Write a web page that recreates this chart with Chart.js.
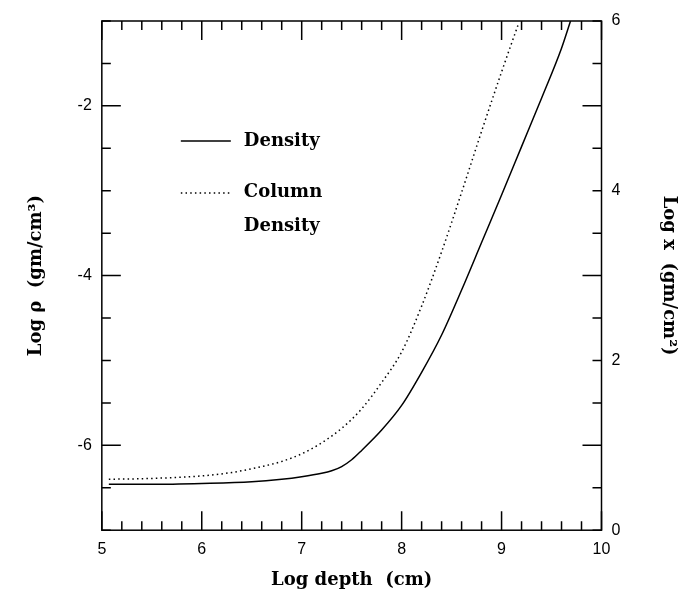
<!DOCTYPE html>
<html>
<head>
<meta charset="utf-8">
<script src="https://cdn.jsdelivr.net/npm/chart.js@4.4.1/dist/chart.umd.min.js"></script>
<style>
  html, body { margin: 0; padding: 0; background: #fff; }
  #wrap { width: 697px; height: 605px; }
</style>
</head>
<body>
<div id="wrap"><canvas id="myChart" width="697" height="605"></canvas></div>
<script>
// density curve: log depth (cm) vs log rho (gm/cm^3), left axis
var depthRho = [5.07, 5.5, 6.0, 6.5, 6.8, 7.0, 7.2, 7.3, 7.4, 7.5, 7.6, 7.8, 8.0, 8.2, 8.4, 8.6, 8.8, 9.0, 9.2, 9.4, 9.6, 9.69];
var logRho = [-6.46, -6.46, -6.45, -6.43, -6.40, -6.37, -6.33, -6.30, -6.25, -6.17, -6.06, -5.82, -5.53, -5.14, -4.70, -4.17, -3.61, -3.05, -2.48, -1.91, -1.32, -1.0];

// column density curve: log depth vs log x (gm/cm^2), right axis
var depthCol = [5.07, 5.5, 6.0, 6.3, 6.6, 6.8, 7.0, 7.2, 7.4, 7.6, 7.8, 8.0, 8.2, 8.4, 8.6, 8.8, 9.0, 9.17];
var logCol = [0.60, 0.61, 0.64, 0.68, 0.75, 0.81, 0.90, 1.03, 1.20, 1.43, 1.74, 2.10, 2.64, 3.28, 3.98, 4.70, 5.40, 5.97];

var xTicks = [5, 6, 7, 8, 9, 10];
var yTicks = [-6, -4, -2];
var y2Ticks = [0, 2, 4, 6];

var labelFont = { family: "'Liberation Sans', Arial, sans-serif", size: 16 };
var titleFont = { family: "'DejaVu Serif', serif", size: 18, weight: "bold" };

function pts(xs, ys) {
  return xs.map(function (x, i) { return { x: x, y: ys[i] }; });
}

// inward ticks on all four sides + frame + legend
var frame = {
  id: "frame",
  afterDatasetsDraw: function (chart) {
    var ctx = chart.ctx;
    var a = chart.chartArea;
    var sx = chart.scales.x, sy = chart.scales.y;
    ctx.save();
    ctx.strokeStyle = "#000";
    ctx.lineWidth = 1.5;
    ctx.strokeRect(a.left, a.top, a.right - a.left, a.bottom - a.top);

    ctx.beginPath();
    for (var i = 0; i <= 25; i++) {
      var v = 5 + i * 0.2;
      var px = sx.getPixelForValue(v);
      var len = (i % 5 === 0) ? 19 : 9;
      ctx.moveTo(px, a.bottom); ctx.lineTo(px, a.bottom - len);
      ctx.moveTo(px, a.top); ctx.lineTo(px, a.top + len);
    }
    for (var j = 0; j <= 12; j++) {
      var w = -7 + j * 0.5;
      var py = sy.getPixelForValue(w);
      var l2 = (j % 4 === 2) ? 19 : 9;
      ctx.moveTo(a.left, py); ctx.lineTo(a.left + l2, py);
      ctx.moveTo(a.right, py); ctx.lineTo(a.right - l2, py);
    }
    ctx.stroke();

    // legend
    ctx.lineWidth = 1.4;
    ctx.beginPath();
    ctx.moveTo(a.left + 79, a.top + 120);
    ctx.lineTo(a.left + 129, a.top + 120);
    ctx.stroke();
    ctx.setLineDash([1.5, 3.2]);
    ctx.beginPath();
    ctx.moveTo(a.left + 79, a.top + 172);
    ctx.lineTo(a.left + 129, a.top + 172);
    ctx.stroke();
    ctx.setLineDash([]);
    ctx.fillStyle = "#000";
    ctx.font = "bold 18px 'DejaVu Serif', serif";
    ctx.textBaseline = "middle";
    ctx.textAlign = "left";
    ctx.fillText("Density", a.left + 142, a.top + 120);
    ctx.fillText("Column", a.left + 142, a.top + 171);
    ctx.fillText("Density", a.left + 142, a.top + 205);
    ctx.restore();
  }
};

const myChart = new Chart(document.getElementById("myChart"), {
  type: "line",
  data: {
    datasets: [
      {
        label: "Density",
        data: pts(depthRho, logRho),
        yAxisID: "y",
        borderColor: "#000",
        borderWidth: 1.5,
        pointRadius: 0,
        fill: false,
        cubicInterpolationMode: "monotone"
      },
      {
        label: "Column Density",
        data: pts(depthCol, logCol),
        yAxisID: "y2",
        borderColor: "#000",
        borderWidth: 1.5,
        borderDash: [1.5, 3.2],
        pointRadius: 0,
        fill: false,
        cubicInterpolationMode: "monotone"
      }
    ]
  },
  options: {
    responsive: false,
    animation: false,
    clip: true,
    layout: { padding: { left: 26, right: 18, top: 21, bottom: 14 } },
    plugins: { legend: { display: false }, tooltip: { enabled: false } },
    scales: {
      x: {
        type: "linear",
        min: 5,
        max: 10,
        grid: { display: false, drawTicks: false },
        border: { display: false },
        afterBuildTicks: function (s) { s.ticks = xTicks.map(function (v) { return { value: v }; }); },
        ticks: { color: "#000", font: labelFont, padding: 10, maxRotation: 0 },
        title: { display: true, text: "Log depth  (cm)", color: "#000", font: titleFont, padding: { top: 0, bottom: 0 } }
      },
      y: {
        type: "linear",
        position: "left",
        min: -7,
        max: -1,
        grid: { display: false, drawTicks: false },
        border: { display: false },
        afterBuildTicks: function (s) { s.ticks = yTicks.map(function (v) { return { value: v }; }); },
        ticks: { color: "#000", font: labelFont, padding: 10 },
        title: { display: true, text: "Log \u03C1  (gm/cm\u00B3)", color: "#000", font: titleFont, padding: { top: 0, bottom: 20 } }
      },
      y2: {
        type: "linear",
        position: "right",
        min: 0,
        max: 6,
        grid: { display: false, drawTicks: false },
        border: { display: false },
        afterBuildTicks: function (s) { s.ticks = y2Ticks.map(function (v) { return { value: v }; }); },
        ticks: { color: "#000", font: labelFont, padding: 10 },
        title: { display: true, text: "Log x  (gm/cm\u00B2)", color: "#000", font: titleFont, padding: { top: 0, bottom: 27 } }
      }
    }
  },
  plugins: [frame]
});
</script>
</body>
</html>
